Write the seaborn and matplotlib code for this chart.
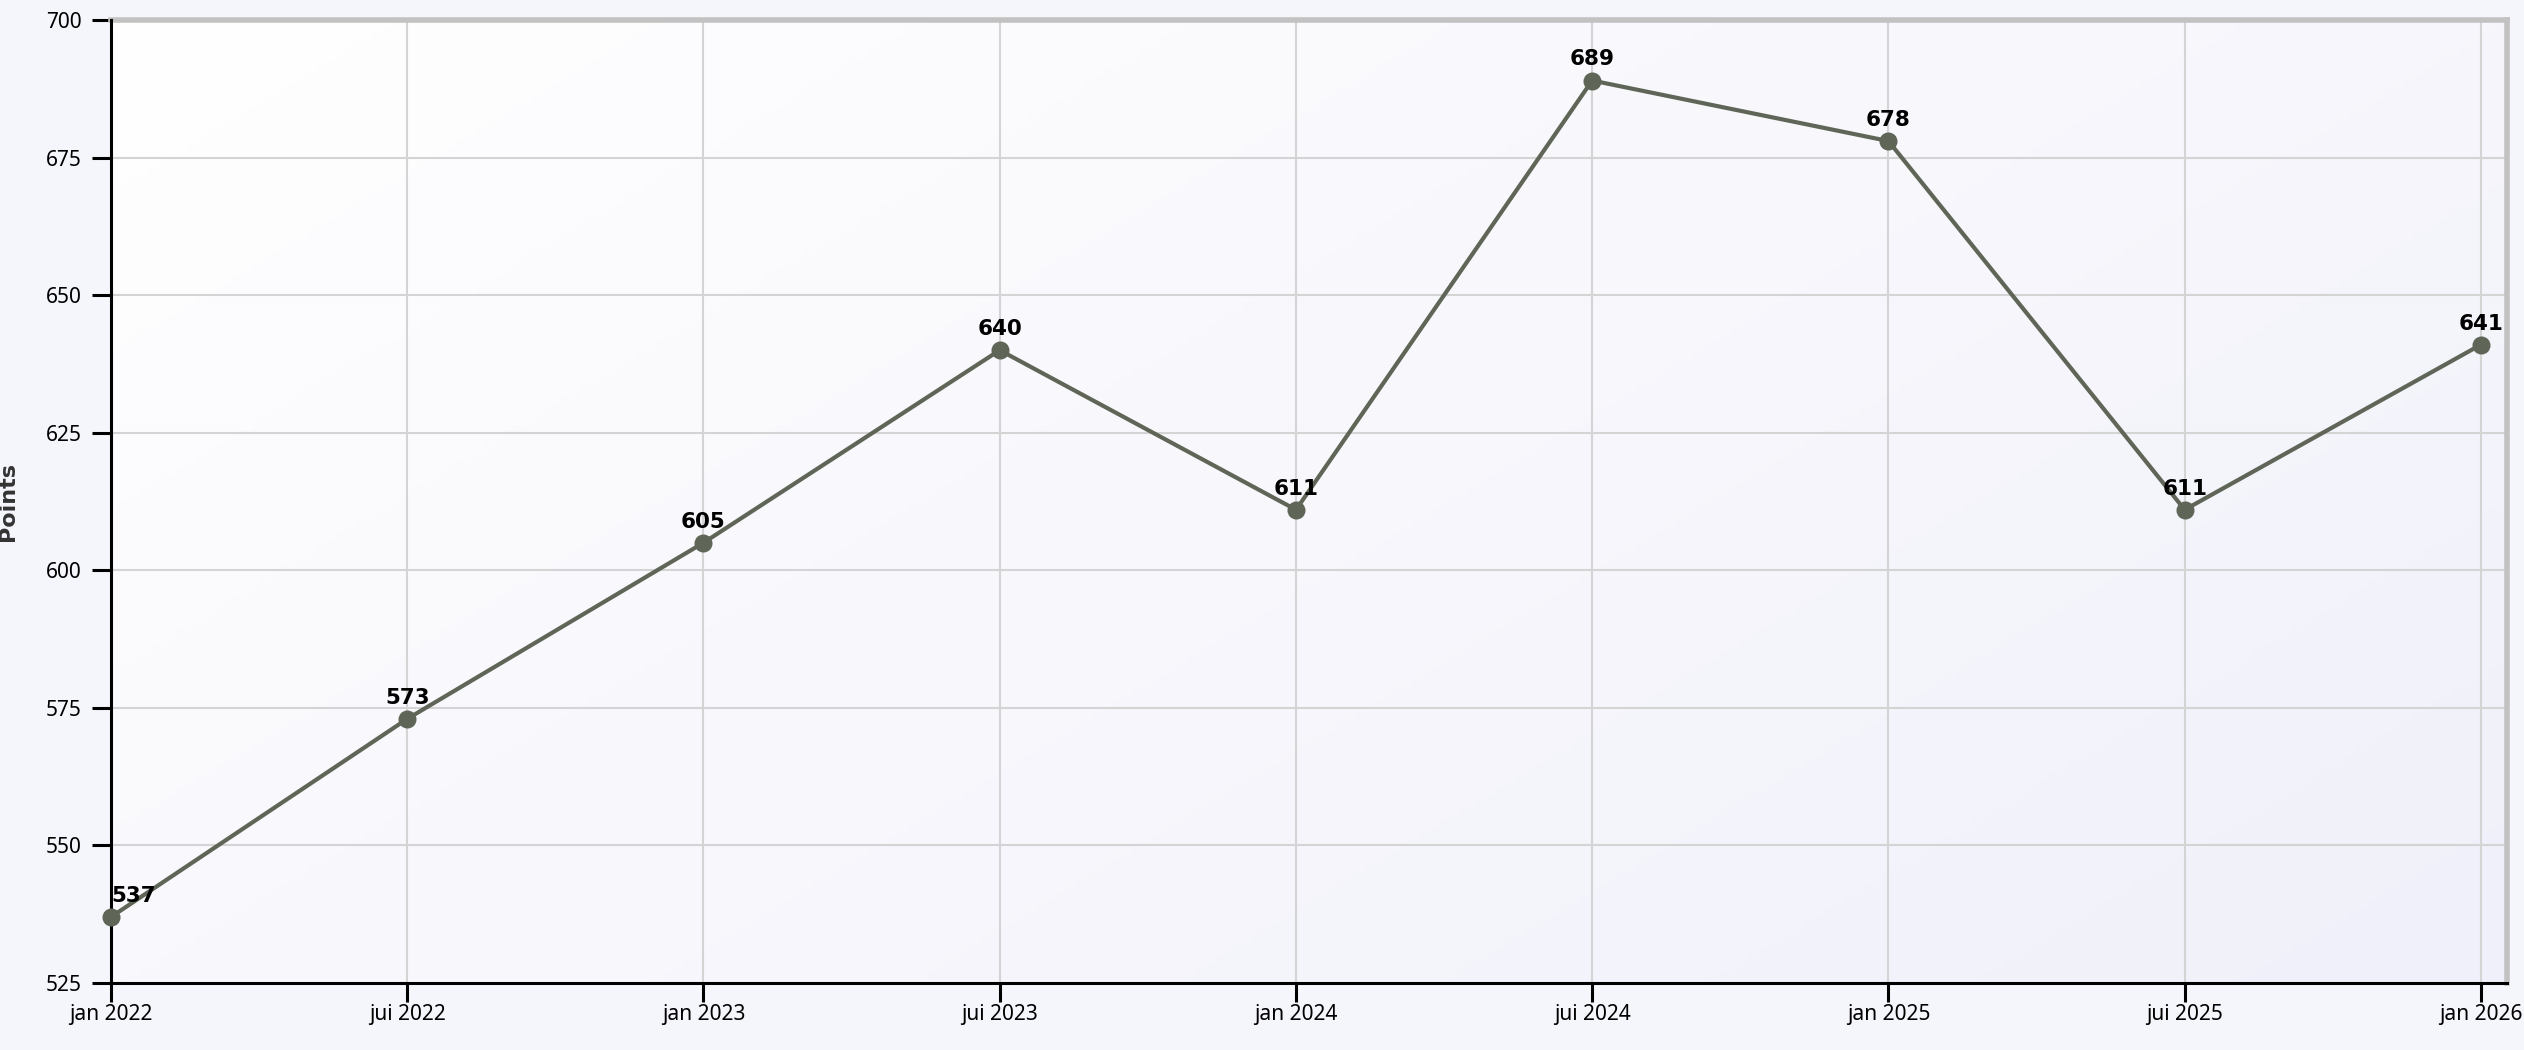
import numpy as np
import pandas as pd
import matplotlib
matplotlib.use("Agg")
import matplotlib.pyplot as plt
import seaborn as sns
from matplotlib.colors import LinearSegmentedColormap

periods = ["jan 2022", "jui 2022", "jan 2023", "jui 2023", "jan 2024",
           "jui 2024", "jan 2025", "jui 2025", "jan 2026"]
points = [537, 573, 605, 640, 611, 689, 678, 611, 641]
yticks = [525, 550, 575, 600, 625, 650, 675, 700]

sns.set_style("white")
plt.rcParams['font.family'] = ['Noto Sans', 'DejaVu Sans']

fig = plt.figure(figsize=(25.24, 10.5), dpi=100, facecolor="#f5f5fc")
ax = fig.add_axes([111/2524, 1 - 983/1050, (2507-111)/2524, (983-20)/1050])

# gradient background (top-left white -> bottom-right lavender)
grad = np.linspace(0, 1, 256)
gx, gy = np.meshgrid(grad, grad)
g = gx * 0.6 + gy * 0.4
cmap = LinearSegmentedColormap.from_list("bg", ["#ffffff", "#f0f0fa"])
ax.imshow(g, cmap=cmap, extent=[0, 1, 0, 1], transform=ax.transAxes,
          aspect="auto", zorder=0, origin="upper")

df = pd.DataFrame({"x": np.arange(len(points)), "Points": points})
sns.lineplot(data=df, x="x", y="Points", ax=ax, color="#5f6658", linewidth=3,
             marker="o", markersize=13, markeredgewidth=0, zorder=6)
for ln in ax.get_lines():
    ln.set_clip_on(False)

ax.set_xlim(0, 8.088)
ax.set_ylim(525, 700)
ax.set_xticks(np.arange(len(periods)))
ax.set_xticklabels(periods)
ax.set_yticks(yticks)
ax.grid(True, color="#d4d4d4", linewidth=1.5, zorder=1)
ax.set_axisbelow(True)

for i, v in enumerate(points):
    ha = "left" if i == 0 else "center"
    ax.annotate(str(v), (i, v), xytext=(0, 8), textcoords="offset points",
                ha=ha, va="bottom", fontsize=15.5, fontweight="bold",
                family="DejaVu Sans", color="black", zorder=7)

for s in ["left", "bottom"]:
    ax.spines[s].set_color("black")
    ax.spines[s].set_linewidth(2.2)
    ax.spines[s].set_zorder(5)
for s in ["top", "right"]:
    ax.spines[s].set_color("#c2c2c2")
    ax.spines[s].set_linewidth(4)

ax.tick_params(axis="both", which="major", bottom=True, left=True,
               direction="out", length=14, width=2.2,
               color="black", labelcolor="black", labelsize=15)
ax.tick_params(axis="y", pad=7)
ax.tick_params(axis="x", pad=1)
ax.set_xlabel("")
ax.set_ylabel("Points", fontsize=16, fontweight="bold", color="#333333",
              family="DejaVu Sans")
ax.yaxis.set_label_coords(-0.039, 0.5)

fig.savefig("out.png", dpi=100, facecolor=fig.get_facecolor())
